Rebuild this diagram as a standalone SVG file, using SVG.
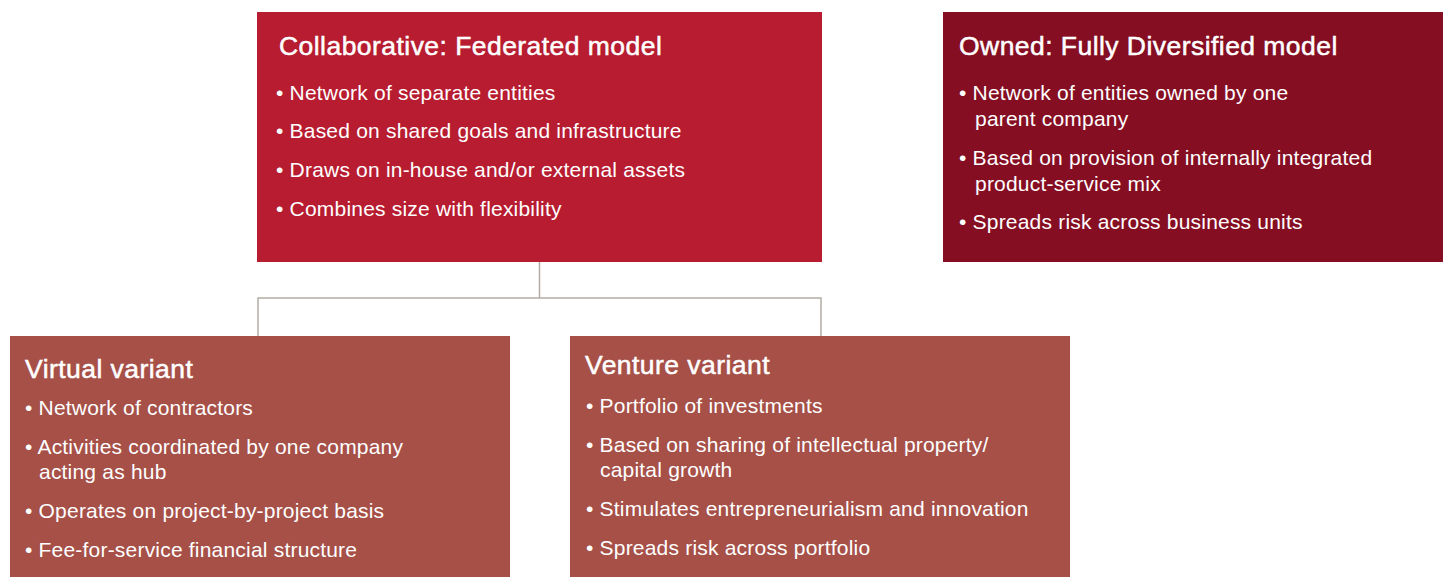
<svg xmlns="http://www.w3.org/2000/svg" width="1443" height="577" viewBox="0 0 1443 577">
  <style>
    .title { font-family: "Liberation Sans", Arial, sans-serif; font-size: 26.5px; letter-spacing: 0.45px; fill: #ffffff; stroke: #ffffff; stroke-width: 0.5px; }
    .item { font-family: "Liberation Sans", Arial, sans-serif; font-size: 21px; letter-spacing: 0.2px; fill: #ffffff; }
    .link { fill: none; stroke: #b3aca3; stroke-width: 1.5; }
  </style>
  <rect width="1443" height="577" fill="#ffffff"/>

  <g id="connectors">
    <path class="link" d="M539.5 262 V298"/>
    <path class="link" d="M258 336 V298 H821 V336"/>
  </g>

  <g id="federated">
    <rect x="257" y="12" width="565" height="250" fill="#b71c30"/>
    <text class="title" x="279" y="55">Collaborative: Federated model</text>
    <text class="item" x="276" y="100">• Network of separate entities</text>
    <text class="item" x="276" y="138">• Based on shared goals and infrastructure</text>
    <text class="item" x="276" y="177">• Draws on in-house and/or external assets</text>
    <text class="item" x="276" y="216">• Combines size with flexibility</text>
  </g>

  <g id="diversified">
    <rect x="943" y="12" width="500" height="250" fill="#850e22"/>
    <text class="title" x="959" y="55">Owned: Fully Diversified model</text>
    <text class="item" x="959" y="100">• Network of entities owned by one</text>
    <text class="item" x="975" y="126">parent company</text>
    <text class="item" x="959" y="165">• Based on provision of internally integrated</text>
    <text class="item" x="975" y="191">product-service mix</text>
    <text class="item" x="959" y="229">• Spreads risk across business units</text>
  </g>

  <g id="virtual">
    <rect x="10" y="336" width="500" height="241" fill="#a65048"/>
    <text class="title" x="25" y="378">Virtual variant</text>
    <text class="item" x="25" y="415">• Network of contractors</text>
    <text class="item" x="25" y="454">• Activities coordinated by one company</text>
    <text class="item" x="39" y="479">acting as hub</text>
    <text class="item" x="25" y="518">• Operates on project-by-project basis</text>
    <text class="item" x="25" y="557">• Fee-for-service financial structure</text>
  </g>

  <g id="venture">
    <rect x="570" y="336" width="500" height="241" fill="#a65048"/>
    <text class="title" x="585" y="374">Venture variant</text>
    <text class="item" x="586" y="413">• Portfolio of investments</text>
    <text class="item" x="586" y="452">• Based on sharing of intellectual property/</text>
    <text class="item" x="600" y="477">capital growth</text>
    <text class="item" x="586" y="516">• Stimulates entrepreneurialism and innovation</text>
    <text class="item" x="586" y="555">• Spreads risk across portfolio</text>
  </g>
</svg>
